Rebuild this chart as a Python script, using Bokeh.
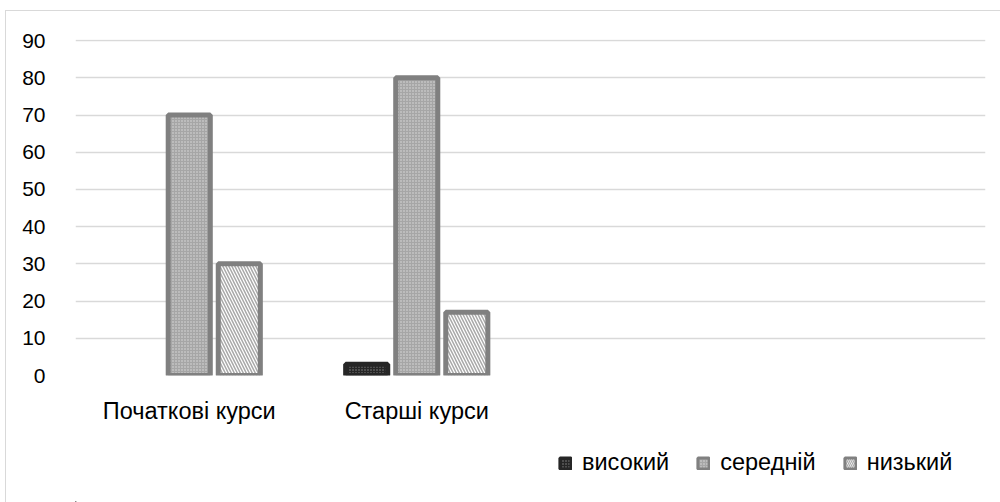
from bokeh.plotting import figure
from bokeh.models import ColumnDataSource, FactorRange, Legend, LegendItem, Range1d, FixedTicker
from bokeh.layouts import column
from bokeh.transform import dodge
from bokeh.embed import file_html
from bokeh.resources import INLINE

categories = ["Початкові курси", "Старші курси", " ", "  "]
high = [0, 3, None, None]
mid = [70, 80, None, None]
low = [30, 17, None, None]
series_names = ["високий", "середній", "низький"]
y_ticks = [0, 10, 20, 30, 40, 50, 60, 70, 80, 90]

FONT = "Liberation Sans"

styles = [
    dict(fill_color="#262626", line_color="#262626", line_width=5,
         hatch_pattern="dot", hatch_color="#8a8a8a", hatch_scale=3, hatch_weight=2),
    dict(fill_color="#a6a6a6", line_color="#808080", line_width=5,
         hatch_pattern="dot", hatch_color="#dcdcdc", hatch_scale=3, hatch_weight=1.5),
    dict(fill_color="white", line_color="#808080", line_width=5,
         hatch_pattern="left_diagonal_line", hatch_color="#a8a8a8", hatch_scale=6, hatch_weight=1.5),
]
legend_styles = [
    dict(fill_color="#262626", line_color="#262626", line_width=3,
         hatch_pattern="dot", hatch_color="#8a8a8a", hatch_scale=3, hatch_weight=2),
    dict(fill_color="#a6a6a6", line_color="#808080", line_width=3,
         hatch_pattern="dot", hatch_color="#dcdcdc", hatch_scale=3, hatch_weight=1.5),
    dict(fill_color="white", line_color="#808080", line_width=3,
         hatch_pattern="left_diagonal_line", hatch_color="#a8a8a8", hatch_scale=4, hatch_weight=1.2),
]
offsets = [-0.22, 0.0, 0.22]

p = figure(x_range=FactorRange(*categories), y_range=Range1d(0, 90.3),
           width=994, height=429, output_backend="svg", toolbar_location=None,
           min_border_left=69, min_border_right=15, min_border_top=28, min_border_bottom=65)
p.outline_line_color = None
p.background_fill_color = "white"
p.border_fill_color = "white"

def src(vals):
    xs = [c for c, v in zip(categories, vals) if v]
    ys = [v for v in vals if v]
    return ColumnDataSource(dict(x=xs, y=ys))

bw = 0.185
for vals, off, st in zip([high, mid, low], offsets, styles):
    p.vbar(x=dodge("x", off, range=p.x_range), top="y", width=bw, source=src(vals), **st)

p.xgrid.grid_line_color = None
p.ygrid.grid_line_color = "#d9d9d9"
p.ygrid.grid_line_width = 1.5
p.yaxis.ticker = FixedTicker(ticks=y_ticks)
for ax in (p.xaxis[0], p.yaxis[0]):
    ax.axis_line_color = None
    ax.major_tick_line_color = None
    ax.minor_tick_line_color = None
    ax.major_label_text_font = FONT
    ax.major_label_text_color = "#000000"
p.yaxis.major_label_text_font_size = "21px"
p.xaxis.major_label_text_font_size = "23.5px"
p.yaxis.major_label_standoff = 24
p.xaxis.major_label_standoff = 16

# legend strip (its renderers sit outside the visible range; only their legend swatches show)
q = figure(width=994, height=62, output_backend="svg", toolbar_location=None,
           x_range=Range1d(0, 1), y_range=Range1d(0, 1), min_border=0)
q.axis.visible = False
q.grid.visible = False
q.outline_line_color = None
q.border_fill_color = "white"
items = []
for name, st in zip(series_names, legend_styles):
    r = q.vbar(x=[-10], top=[-10], width=0.1, **st)
    items.append(LegendItem(label=name, renderers=[r]))
legend = Legend(items=items, orientation="horizontal", location=(483, 26),
                glyph_width=14, glyph_height=14, label_standoff=10, spacing=27,
                label_text_font=FONT, label_text_font_size="23.5px", label_text_color="#000000",
                border_line_color=None, background_fill_alpha=0, padding=0, margin=0)
q.add_layout(legend, "center")

layout = column(p, q, spacing=0,
                styles={"border-top": "1px solid #d9d9d9", "border-left": "1px solid #d9d9d9",
                        "margin-left": "5px", "margin-top": "10px"})
open("out.html", "w").write(file_html(layout, INLINE))
